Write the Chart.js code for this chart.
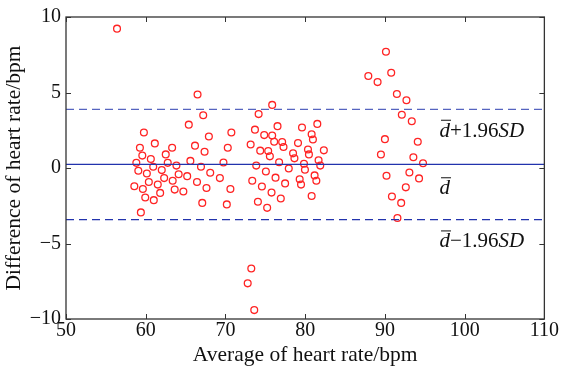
<!DOCTYPE html>
<html>
<head>
<meta charset="utf-8">
<script src="https://cdn.jsdelivr.net/npm/chart.js@4"></script>
<style>
  html, body { margin: 0; padding: 0; background: #fff; }
  #wrap { width: 561px; height: 373px; }
</style>
</head>
<body>
<div id="wrap"><canvas id="baChart"></canvas></div>
<script>
// average of the two heart rates (x) and their difference (y), bpm
const avgHR = [
  56.4,
  59.77, 61.14, 59.27, 63.31, 59.57, 62.51, 60.64, 58.82, 62.76, 60.94,
  63.85, 59.07, 62.01, 60.14, 64.13, 62.31, 60.39, 63.38, 61.51, 58.57,
  59.64, 63.63, 64.72, 61.81, 59.94, 61.01, 59.39, 65.40, 65.60, 65.20,
  66.50, 75.86, 67.21, 74.16, 76.53, 73.70, 79.60, 81.52, 67.92, 70.74,
  74.86, 75.86, 80.81, 80.97, 76.11, 77.11, 79.10, 66.18, 70.29, 73.16,
  77.28, 67.38, 74.36, 75.36, 80.35, 82.34, 78.48, 75.57, 80.47, 78.65,
  69.75, 76.73, 81.68, 66.93, 73.86, 79.85, 81.89, 77.94, 79.97, 68.09,
  75.07, 81.18, 69.30, 76.28, 81.40, 79.31, 66.43, 73.36, 77.48, 79.48,
  67.62, 74.57, 70.62, 75.78, 76.94, 80.81, 67.09, 70.17, 74.07, 75.23,
  90.13, 90.79, 87.92, 89.08, 91.50, 92.70, 92.12, 93.37, 90.00, 94.12,
  89.50, 93.57, 94.78, 90.20, 93.07, 94.28, 92.62, 90.88, 92.04, 91.57,
  73.24, 72.79, 73.61
];
const diffHR = [
  9.23,
  2.35, 1.63, 1.34, 1.34, 0.82, 0.90, 0.60, 0.34, 0.34, 0.08,
  0.16, -0.18, -0.14, -0.36, -0.41, -0.67, -0.93, -0.84, -1.10, -1.21,
  -1.39, -1.43, -1.56, -1.65, -1.95, -2.13, -2.94, 2.87, 0.47, -0.54,
  4.87, 4.18, 3.49, 3.57, 2.77, 2.54, 2.68, 2.92, 2.09, 2.35,
  2.18, 2.15, 2.24, 1.89, 1.74, 1.72, 1.65, 1.48, 1.34, 1.56,
  1.39, 1.08, 1.15, 1.13, 1.23, 1.17, 0.97, 0.77, 0.90, 0.64,
  0.36, 0.38, 0.51, 0.08, 0.16, 0.28, 0.16, -0.03, -0.12, -0.31,
  -0.23, -0.49, -0.67, -0.64, -0.84, -0.75, -0.93, -0.84, -1.02, -1.10,
  -1.32, -1.23, -1.39, -1.63, -2.02, -1.85, -2.31, -2.41, -2.24, -2.64,
  7.70, 6.31, 6.09, 5.69, 4.90, 4.49, 3.53, 3.10, 1.91, 1.74,
  0.89, 0.71, 0.31, -0.51, -0.30, -0.69, -1.28, -1.89, -2.31, -3.31,
  -6.66, -7.64, -9.41
];

// mean difference and limits of agreement
const meanDiff = 0.24;
const upperLoA = 3.88;
const lowerLoA = -3.42;

const xRange = [50, 110];
const yRange = [-10, 10];
const xTicks = [50, 60, 70, 80, 90, 100, 110];
const yTicks = [-10, -5, 0, 5, 10];

// where the line labels sit (data units)
const labelX = 96.85;
const labelY = [2.07, -1.74, -5.26];

const serif = '"Liberation Serif", "Times New Roman", serif';
const lineBlue = '#2233ad';

const points = avgHR.map((v, i) => ({ x: v, y: diffHR[i] }));
const hLine = (val) => [{ x: xRange[0], y: val }, { x: xRange[1], y: val }];

// box round the plot + ticks drawn inward like matlab
const frameTicks = {
  id: 'frameTicks',
  afterDraw(chart) {
    const { ctx, chartArea: a, scales } = chart;
    ctx.save();
    ctx.strokeStyle = '#333';
    ctx.lineWidth = 1.3;
    ctx.strokeRect(a.left, a.top, a.right - a.left, a.bottom - a.top);
    ctx.lineWidth = 1;
    const len = 5;
    ctx.beginPath();
    xTicks.forEach(t => {
      const px = Math.round(scales.x.getPixelForValue(t)) + 0.5;
      ctx.moveTo(px, a.bottom); ctx.lineTo(px, a.bottom - len);
      ctx.moveTo(px, a.top); ctx.lineTo(px, a.top + len);
    });
    yTicks.forEach(t => {
      const py = Math.round(scales.y.getPixelForValue(t)) + 0.5;
      ctx.moveTo(a.left, py); ctx.lineTo(a.left + len, py);
      ctx.moveTo(a.right, py); ctx.lineTo(a.right - len, py);
    });
    ctx.stroke();
    ctx.restore();
  }
};

// d-bar labels next to the lines
const lineLabels = {
  id: 'lineLabels',
  afterDraw(chart) {
    const { ctx, scales } = chart;
    const x0 = scales.x.getPixelForValue(labelX);
    const texts = [['+', '1.96', 'SD'], null, ['\u2212', '1.96', 'SD']];
    const fs = 21;
    ctx.save();
    ctx.fillStyle = '#111';
    ctx.strokeStyle = '#111';
    ctx.textBaseline = 'alphabetic';
    labelY.forEach((v, i) => {
      const y = scales.y.getPixelForValue(v);
      let x = x0;
      ctx.font = 'italic ' + fs + 'px ' + serif;
      ctx.fillText('d', x, y);
      const dw = ctx.measureText('d').width;
      // the bar over d
      ctx.lineWidth = 1;
      ctx.beginPath();
      ctx.moveTo(x + 1.5, y - 16.5);
      ctx.lineTo(x + dw + 1, y - 16.5);
      ctx.stroke();
      x += dw;
      const t = texts[i];
      if (t) {
        ctx.font = fs + 'px ' + serif;
        ctx.fillText(t[0], x, y);
        x += ctx.measureText(t[0]).width;
        ctx.fillText(t[1], x, y);
        x += ctx.measureText(t[1]).width;
        ctx.font = 'italic ' + fs + 'px ' + serif;
        ctx.fillText(t[2], x, y);
      }
    });
    ctx.restore();
  }
};

const ctx = document.getElementById('baChart').getContext('2d');
new Chart(ctx, {
  type: 'scatter',
  data: {
    datasets: [
      {
        type: 'line',
        data: hLine(upperLoA),
        borderColor: '#5664c0',
        borderWidth: 1.2,
        borderDash: [8, 5],
        pointRadius: 0
      },
      {
        type: 'line',
        data: hLine(meanDiff),
        borderColor: lineBlue,
        borderWidth: 1.3,
        pointRadius: 0
      },
      {
        type: 'line',
        data: hLine(lowerLoA),
        borderColor: lineBlue,
        borderWidth: 1.2,
        borderDash: [8, 5],
        pointRadius: 0
      },
      {
        data: points,
        pointStyle: 'circle',
        pointRadius: 3.4,
        borderWidth: 1.3,
        borderColor: '#ff2424',
        backgroundColor: 'rgba(0,0,0,0)'
      }
    ]
  },
  options: {
    responsive: true,
    maintainAspectRatio: false,
    animation: false,
    layout: { padding: { top: 14, right: 14, left: 0, bottom: 0 } },
    plugins: {
      legend: { display: false },
      tooltip: { enabled: false }
    },
    scales: {
      x: {
        type: 'linear',
        min: xRange[0],
        max: xRange[1],
        afterBuildTicks: (s) => { s.ticks = xTicks.map(v => ({ value: v })); },
        afterFit: (s) => { s.height = 54; },
        grid: { display: false, drawTicks: false },
        border: { display: false },
        ticks: {
          padding: 2,
          color: '#111',
          font: { family: serif, size: 20, lineHeight: 1 },
          maxRotation: 0
        },
        title: {
          display: true,
          text: 'Average of heart rate/bpm',
          color: '#111',
          font: { family: serif, size: 21.5, lineHeight: 1.1 },
          padding: { top: 0, bottom: 6 }
        }
      },
      y: {
        type: 'linear',
        min: yRange[0],
        max: yRange[1],
        afterBuildTicks: (s) => { s.ticks = yTicks.map(v => ({ value: v })); },
        afterFit: (s) => { s.width = 66; },
        grid: { display: false, drawTicks: false },
        border: { display: false },
        ticks: {
          padding: 5,
          color: '#111',
          font: { family: serif, size: 20 },
          callback: (v) => String(v).replace('-', '\u2212')
        },
        title: {
          display: true,
          text: 'Difference of heart rate/bpm',
          color: '#111',
          font: { family: serif, size: 21.5, lineHeight: 1.1 },
          padding: { top: 3, bottom: 0 }
        }
      }
    }
  },
  plugins: [frameTicks, lineLabels]
});
</script>
</body>
</html>
